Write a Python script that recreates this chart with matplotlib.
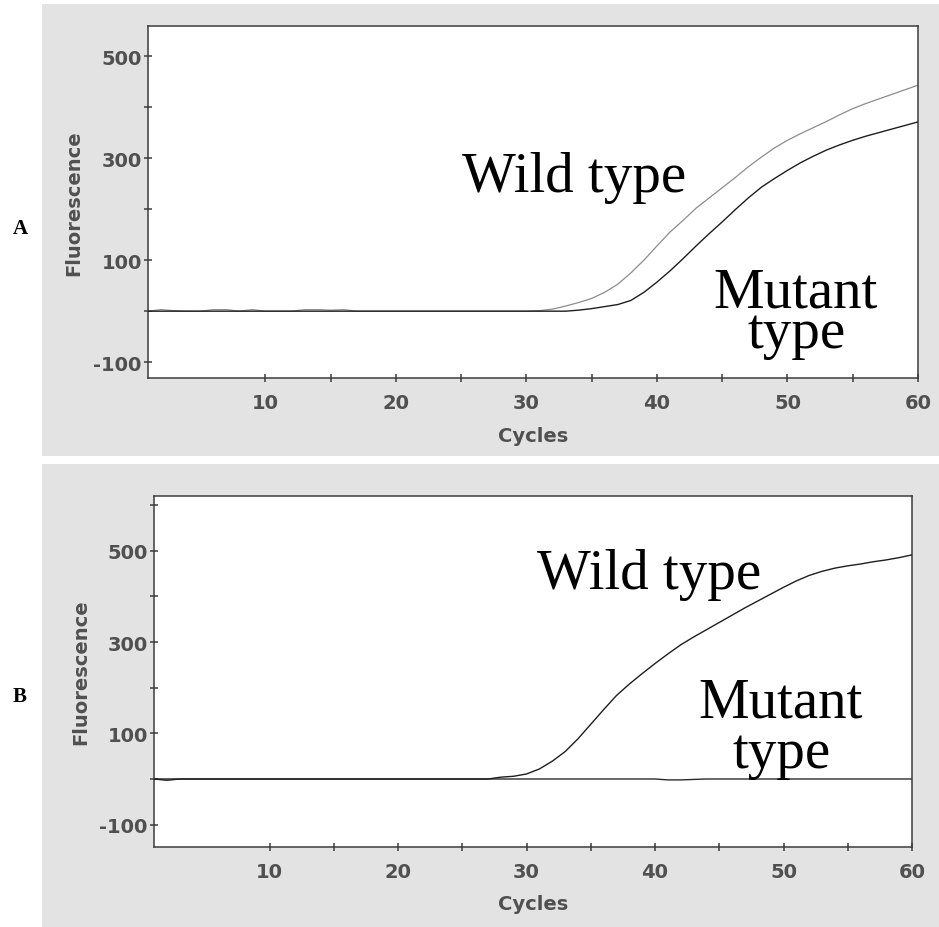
import matplotlib
matplotlib.use("Agg")
import matplotlib.pyplot as plt
from matplotlib.patches import Rectangle
from matplotlib.ticker import FixedLocator

plt.rcParams["axes.unicode_minus"] = False

# ---- data ----
cycles = list(range(1, 61))

# panel A
wild_a = [0, 3, 1, 0, 0, 3, 3, 0, 3, 0,
          0, 0, 3, 3, 2, 3, 0, 0, 0, 0,
          0, 0, 0, 0, 0, 0, 0, 0, 0, 0,
          1, 4, 10, 17, 25, 37, 53, 75, 100, 128,
          155, 178, 202, 222, 242, 262, 283, 302, 320, 335,
          348, 360, 372, 385, 397, 407, 416, 425, 434, 443]
mutant_a = [0, 0, 0, 0, 0, 0, 0, 0, 0, 0,
            0, 0, 0, 0, 0, 0, 0, 0, 0, 0,
            0, 0, 0, 0, 0, 0, 0, 0, 0, 0,
            0, 0, 0, 2, 5, 9, 13, 21, 37, 57,
            79, 103, 128, 152, 175, 199, 222, 243, 260, 276,
            291, 304, 316, 326, 335, 343, 350, 357, 364, 371]

# panel B
wild_b = [0, 0, 0, 0, 0, 0, 0, 0, 0, 0,
          0, 0, 0, 0, 0, 0, 0, 0, 0, 0,
          0, 0, 0, 0, 0, 0, 0, 4, 6, 11,
          22, 39, 60, 88, 120, 152, 183, 208, 231, 253,
          274, 294, 311, 327, 343, 359, 375, 390, 405, 420,
          434, 446, 455, 462, 467, 471, 476, 480, 485, 491]
mutant_b = [0, -3, 0, 0, 0, 0, 0, 0, 0, 0,
            0, 0, 0, 0, 0, 0, 0, 0, 0, 0,
            0, 0, 0, 0, 0, 0, 0, 0, 0, 0,
            0, 0, 0, 0, 0, 0, 0, 0, 0, 0,
            -2, -2, -1, 0, 0, 0, 0, 0, 0, 0,
            0, 0, 0, 0, 0, 0, 0, 0, 0, 0]

y_major = [-100, 100, 300, 500]
y_minor = [0, 200, 400, 600]
x_major = [10, 20, 30, 40, 50, 60]
x_minor = [15, 25, 35, 45, 55]

W, H = 939, 928
TXT = "#505050"
SERIF = "Liberation Serif"


def fx(px):
    return px / W


def fy(py):
    return 1 - py / H


def style_axes(ax, ylim):
    ax.set_facecolor("white")
    ax.set_xlim(1, 60)
    ax.set_ylim(*ylim)
    ax.xaxis.set_major_locator(FixedLocator(x_major))
    ax.xaxis.set_minor_locator(FixedLocator(x_minor))
    ax.yaxis.set_major_locator(FixedLocator(y_major))
    ax.yaxis.set_minor_locator(FixedLocator(y_minor))
    for s in ax.spines.values():
        s.set_color("#3c3c3c")
        s.set_linewidth(1.1)
    ax.tick_params(which="both", direction="inout", length=6, width=1.1,
                   color="#3c3c3c", labelcolor=TXT, labelsize=14)
    ax.tick_params(axis="x", which="both", pad=8)
    ax.tick_params(axis="y", which="both", pad=1.5)
    for lab in ax.get_xticklabels() + ax.get_yticklabels():
        lab.set_fontweight("bold")
    ax.set_xlabel("Cycles", fontsize=14, fontweight="bold", color=TXT)
    ax.set_ylabel("Fluorescence", fontsize=14, fontweight="bold", color=TXT)
    ax.xaxis.set_label_coords(0.5, -0.135)
    ax.yaxis.set_label_coords(-0.084, 0.5)


fig = plt.figure(figsize=(9.39, 9.28), dpi=100)

# grey screenshot backgrounds behind each panel
for top, bot in [(5, 457), (465, 928)]:
    fig.patches.append(Rectangle((fx(42), fy(bot)), fx(939 - 42), (bot - top) / H,
                                 transform=fig.transFigure, facecolor="#e3e3e3",
                                 edgecolor="none", zorder=-5))

# ---- panel A ----
ax1 = fig.add_axes([fx(148), fy(379), fx(918 - 148), (379 - 27) / H])
ax1.plot(cycles, wild_a, color="#8c8c8c", lw=0.9, zorder=2)
ax1.plot(cycles, mutant_a, color="#1e1e1e", lw=1.0, zorder=3)
style_axes(ax1, (-131, 559))

fig.text(fx(462), fy(192), "Wild type", family=SERIF, fontsize=41, ha="left", va="baseline")
fig.text(fx(796), fy(308), "Mutant", family=SERIF, fontsize=41, ha="center", va="baseline")
fig.text(fx(797), fy(348), "type", family=SERIF, fontsize=41, ha="center", va="baseline")

# ---- panel B ----
ax2 = fig.add_axes([fx(154), fy(848), fx(912 - 154), (848 - 497) / H])
ax2.plot(cycles, mutant_b, color="#2a2a2a", lw=1.0, zorder=2)
ax2.plot(cycles, wild_b, color="#1e1e1e", lw=1.0, zorder=3)
style_axes(ax2, (-149, 620))

fig.text(fx(537), fy(589), "Wild type", family=SERIF, fontsize=41, ha="left", va="baseline")
fig.text(fx(781), fy(718), "Mutant", family=SERIF, fontsize=41, ha="center", va="baseline")
fig.text(fx(782), fy(768), "type", family=SERIF, fontsize=41, ha="center", va="baseline")

# panel letters
fig.text(fx(20), fy(229), "A", family=SERIF, fontsize=15, fontweight="bold", ha="center", va="center")
fig.text(fx(20), fy(697), "B", family=SERIF, fontsize=15, fontweight="bold", ha="center", va="center")

fig.savefig("out.png", dpi=100)
